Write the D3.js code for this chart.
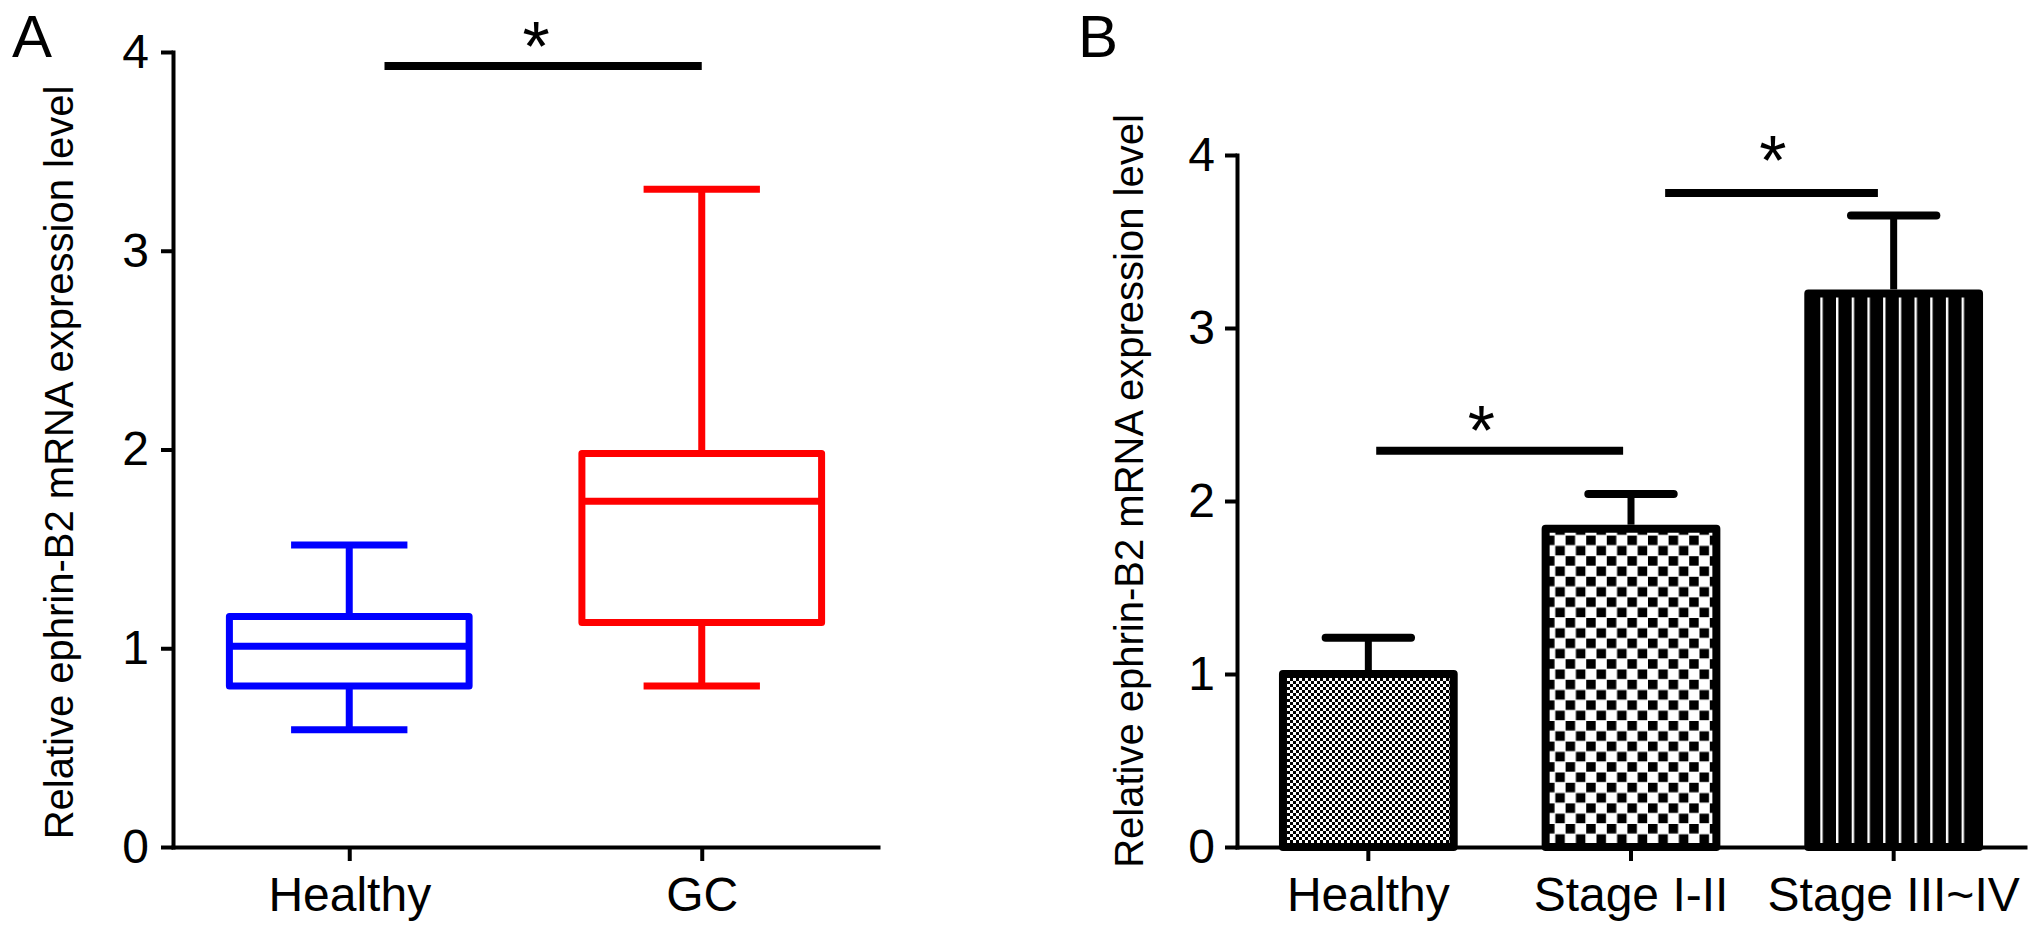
<!DOCTYPE html>
<html>
<head>
<meta charset="utf-8">
<script src="https://cdn.jsdelivr.net/npm/d3@7"></script>
<style>
    body { margin: 0; background: #fff; }
    svg text { font-family: "Liberation Sans", Arial, sans-serif; fill: #000; }
</style>
</head>
<body>
<div id="chart"></div>
<script>
// panel A - box plot values
const boxGroups = ["Healthy", "GC"];
const boxMin = [0.59, 0.81];
const boxQ1 = [0.81, 1.13];
const boxMedian = [1.01, 1.74];
const boxQ3 = [1.16, 1.98];
const boxMax = [1.52, 3.31];
const boxColors = ["#0000ff", "#ff0000"];

// panel B - bar values (mean + upper end of error bar)
const barGroups = ["Healthy", "Stage I-II", "Stage III~IV"];
const barMeans = [1.0, 1.84, 3.2];
const barUpper = [1.21, 2.04, 3.65];
const barFills = ["fineCheck", "bigCheck", "stripes"];

const yTicks = [0, 1, 2, 3, 4];
const yTitle = "Relative ephrin-B2 mRNA expression level";

// significance marks: [from index, to index, line level, star index, star level]
const sigA = [[0.1, 1.0, 3.93, 0.53, 4.11]];
const sigB = [[0.03, 0.97, 2.29, 0.43, 2.5], [1.13, 1.94, 3.78, 1.54, 4.06]];

const W = 2031, H = 934;
const svg = d3.select("#chart").append("svg")
    .attr("width", W)
    .attr("height", H);

// fill patterns for panel B
const defs = svg.append("defs");

let p1 = defs.append("pattern").attr("id", "fineCheck")
    .attr("patternUnits", "userSpaceOnUse").attr("width", 6).attr("height", 6);
p1.append("rect").attr("width", 6).attr("height", 6).attr("fill", "#fff");
p1.append("rect").attr("width", 3).attr("height", 3).attr("fill", "#000");
p1.append("rect").attr("x", 3).attr("y", 3).attr("width", 3).attr("height", 3).attr("fill", "#000");

let p2 = defs.append("pattern").attr("id", "bigCheck")
    .attr("patternUnits", "userSpaceOnUse").attr("width", 20.6).attr("height", 20.6);
p2.append("rect").attr("width", 20.6).attr("height", 20.6).attr("fill", "#fff");
p2.append("rect").attr("width", 9.5).attr("height", 9.5).attr("fill", "#000");
p2.append("rect").attr("x", 10.3).attr("y", 10.3).attr("width", 9.5).attr("height", 9.5).attr("fill", "#000");

function styleAxis(g) {
    g.selectAll("path.domain").attr("stroke-width", 4).attr("stroke-linecap", "square");
    g.selectAll(".tick line").attr("stroke-width", 4);
    g.selectAll("text").attr("font-size", 48);
}

/* ---------- panel A ---------- */
let yA = d3.scaleLinear().domain([0, 4]).range([847, 52]);
let xA = d3.scalePoint().domain(boxGroups).range([173, 878]).padding(0.5);
let idxA = d3.scaleLinear().domain([0, 1]).range([xA(boxGroups[0]), xA(boxGroups[1])]);

let gA = svg.append("g");

gA.append("g")
    .attr("transform", `translate(${xA.range()[0]},0)`)
    .call(d3.axisLeft(yA).tickValues(yTicks).tickFormat(d3.format("d"))
        .tickSize(12).tickSizeOuter(0).tickPadding(12))
    .call(styleAxis);

gA.append("g")
    .attr("transform", `translate(0,${yA(0)})`)
    .call(d3.axisBottom(xA).tickSize(14).tickSizeOuter(0).tickPadding(16))
    .call(styleAxis);

let boxW = xA.step() * 0.68;
let capW = xA.step() * 0.33;

boxGroups.forEach((grp, i) => {
    let cx = xA(grp);
    let g = gA.append("g")
        .attr("stroke", boxColors[i])
        .attr("stroke-width", 7)
        .attr("fill", "none");

    // whiskers
    g.append("line").attr("x1", cx).attr("x2", cx).attr("y1", yA(boxQ3[i])).attr("y2", yA(boxMax[i]));
    g.append("line").attr("x1", cx).attr("x2", cx).attr("y1", yA(boxQ1[i])).attr("y2", yA(boxMin[i]));
    g.append("line").attr("x1", cx - capW / 2).attr("x2", cx + capW / 2).attr("y1", yA(boxMax[i])).attr("y2", yA(boxMax[i]));
    g.append("line").attr("x1", cx - capW / 2).attr("x2", cx + capW / 2).attr("y1", yA(boxMin[i])).attr("y2", yA(boxMin[i]));

    // box + median
    g.append("rect")
        .attr("x", cx - boxW / 2)
        .attr("width", boxW)
        .attr("y", yA(boxQ3[i]))
        .attr("height", yA(boxQ1[i]) - yA(boxQ3[i]))
        .attr("stroke-linejoin", "round");
    g.append("line").attr("x1", cx - boxW / 2).attr("x2", cx + boxW / 2)
        .attr("y1", yA(boxMedian[i])).attr("y2", yA(boxMedian[i]));
});

sigA.forEach(s => {
    gA.append("line")
        .attr("x1", idxA(s[0])).attr("x2", idxA(s[1]))
        .attr("y1", yA(s[2])).attr("y2", yA(s[2]))
        .attr("stroke", "#000").attr("stroke-width", 8);
    gA.append("text")
        .attr("x", idxA(s[3])).attr("y", yA(s[4]))
        .attr("dy", "0.58em")
        .attr("text-anchor", "middle")
        .attr("font-size", 70)
        .text("*");
});

gA.append("text")
    .attr("transform", `translate(73,${yA(2) + 13}) rotate(-90)`)
    .attr("text-anchor", "middle")
    .attr("font-size", 40)
    .text(yTitle);

gA.append("text").attr("x", 12).attr("y", 57).attr("font-size", 60).text("A");

/* ---------- panel B ---------- */
let yB = d3.scaleLinear().domain([0, 4]).range([847, 155]);
let xB = d3.scaleBand().domain(barGroups).range([1237, 2025]).paddingInner(0.35).paddingOuter(0.175);
let idxB = d3.scaleLinear().domain([0, 2])
    .range([xB(barGroups[0]) + xB.bandwidth() / 2, xB(barGroups[2]) + xB.bandwidth() / 2]);

// vertical stripes, aligned to the last bar
let sx = xB(barGroups[2]) + 12;
let p3 = defs.append("pattern").attr("id", "stripes")
    .attr("patternUnits", "userSpaceOnUse").attr("x", sx).attr("width", 15.7).attr("height", 10);
p3.append("rect").attr("width", 15.7).attr("height", 10).attr("fill", "#000");
p3.append("rect").attr("width", 2.4).attr("height", 10).attr("fill", "#fff");

let gB = svg.append("g");

// bars
gB.selectAll("rect.bar")
    .data(barGroups)
    .enter().append("rect")
    .attr("class", "bar")
    .attr("x", d => xB(d))
    .attr("width", xB.bandwidth())
    .attr("y", (d, i) => yB(barMeans[i]))
    .attr("height", (d, i) => yB(0) - yB(barMeans[i]))
    .attr("fill", (d, i) => `url(#${barFills[i]})`)
    .attr("stroke", "#000")
    .attr("stroke-width", 8)
    .attr("stroke-linejoin", "round");

// error bars
let errCap = xB.bandwidth() * 0.5;
barGroups.forEach((grp, i) => {
    let cx = xB(grp) + xB.bandwidth() / 2;
    gB.append("line")
        .attr("x1", cx).attr("x2", cx)
        .attr("y1", yB(barMeans[i]) - 4).attr("y2", yB(barUpper[i]))
        .attr("stroke", "#000").attr("stroke-width", 7);
    gB.append("line")
        .attr("x1", cx - errCap / 2).attr("x2", cx + errCap / 2)
        .attr("y1", yB(barUpper[i])).attr("y2", yB(barUpper[i]))
        .attr("stroke", "#000").attr("stroke-width", 8)
        .attr("stroke-linecap", "round");
});

gB.append("g")
    .attr("transform", `translate(${xB.range()[0]},0)`)
    .call(d3.axisLeft(yB).tickValues(yTicks).tickFormat(d3.format("d"))
        .tickSize(12).tickSizeOuter(0).tickPadding(10))
    .call(styleAxis);

gB.append("g")
    .attr("transform", `translate(0,${yB(0)})`)
    .call(d3.axisBottom(xB).tickSize(14).tickSizeOuter(0).tickPadding(16))
    .call(styleAxis);

sigB.forEach(s => {
    gB.append("line")
        .attr("x1", idxB(s[0])).attr("x2", idxB(s[1]))
        .attr("y1", yB(s[2])).attr("y2", yB(s[2]))
        .attr("stroke", "#000").attr("stroke-width", 8);
    gB.append("text")
        .attr("x", idxB(s[3])).attr("y", yB(s[4]))
        .attr("dy", "0.58em")
        .attr("text-anchor", "middle")
        .attr("font-size", 70)
        .text("*");
});

gB.append("text")
    .attr("transform", `translate(1143,491) rotate(-90)`)
    .attr("text-anchor", "middle")
    .attr("font-size", 40)
    .text(yTitle);

gB.append("text").attr("x", 1078).attr("y", 57).attr("font-size", 60).text("B");
</script>
</body>
</html>
